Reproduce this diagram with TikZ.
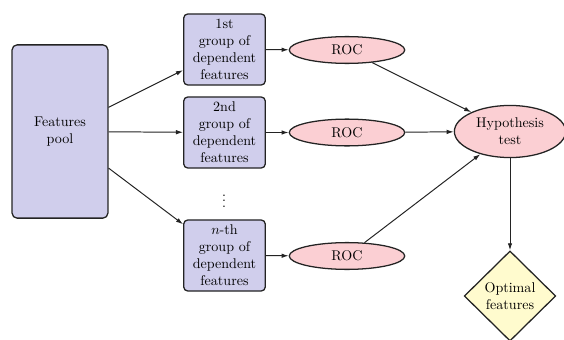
\documentclass[tikz,border=0pt]{standalone}
\usetikzlibrary{shapes.geometric,arrows.meta}
\definecolor{boxfill}{RGB}{208,206,236}
\definecolor{rocfill}{RGB}{251,207,211}
\definecolor{optfill}{RGB}{255,251,206}
\definecolor{edgecol}{RGB}{35,35,35}
\tikzset{
  grpbox/.style={draw=edgecol, line width=0.9pt, fill=boxfill, rounded corners=3pt,
    minimum width=58pt, minimum height=50.5pt, inner sep=0pt, align=center},
  poolbox/.style={draw=edgecol, line width=0.9pt, fill=boxfill, rounded corners=3.5pt,
    minimum width=68pt, minimum height=123pt, inner sep=0pt, align=center},
  rocell/.style={draw=edgecol, line width=0.9pt, fill=rocfill, ellipse,
    minimum width=82pt, minimum height=19pt, inner sep=0pt},
  hypell/.style={draw=edgecol, line width=0.9pt, fill=rocfill, ellipse,
    minimum width=79pt, minimum height=37pt, inner sep=0pt, align=center},
  optdiam/.style={draw=edgecol, line width=0.9pt, fill=optfill, diamond,
    minimum width=65pt, minimum height=64pt, inner sep=0pt, align=center},
  conn/.style={draw=edgecol, line width=0.7pt, -{Latex[length=5pt,width=3.2pt]}}
}
\begin{document}
\begin{tikzpicture}[x=0.71pt,y=-0.71pt]
\useasboundingbox (0,0) rectangle (564,340);
\node[poolbox] (pool) at (60,131.5) {Features\\pool};
\node[grpbox] (g1) at (224.5,49.5) {1st\\group of\\dependent\\features};
\node[grpbox] (g2) at (224.5,132.5) {2nd\\group of\\dependent\\features};
\node[grpbox] (gn) at (224.5,255.5) {$n$-th\\group of\\dependent\\features};
\node (dots) at (224,197) {$\vdots$};
\node[rocell] (r1) at (347,50) {ROC};
\node[rocell] (r2) at (347,132.5) {ROC};
\node[rocell] (rn) at (347,256) {ROC};
\node[hypell] (hyp) at (510,131.5) {Hypothesis\\test};
\node[optdiam] (opt) at (510,296) {Optimal\\features};
\draw[conn] (pool) -- (g1);
\draw[conn] (pool) -- (g2);
\draw[conn] (pool) -- (gn);
\draw[conn] (g1) -- (r1);
\draw[conn] (g2) -- (r2);
\draw[conn] (gn) -- (rn);
\draw[conn] (r1) -- (hyp);
\draw[conn] (r2) -- (hyp);
\draw[conn] (rn) -- (hyp);
\draw[conn] (hyp) -- (opt);
\end{tikzpicture}
\end{document}
